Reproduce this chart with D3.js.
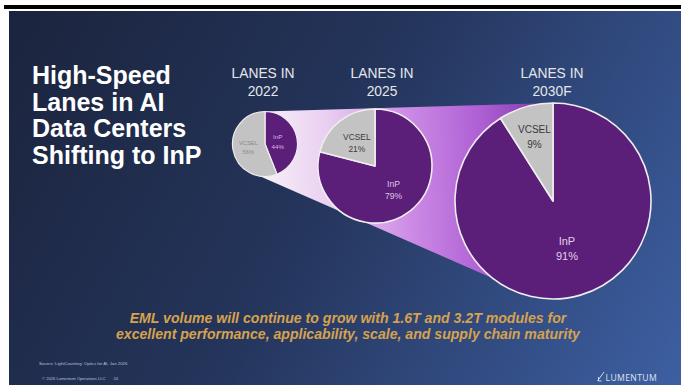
<!DOCTYPE html>
<html>
<head>
<meta charset="utf-8">
<script src="https://cdn.jsdelivr.net/npm/d3@7"></script>
<style>
  html, body { margin: 0; padding: 0; background: #ffffff; }
  svg { display: block; }
</style>
</head>
<body>
<svg id="chart" width="681" height="385"></svg>
<script>
// ---- Data ----
const years = ["2022", "2025", "2030F"];
const yearHeader = "LANES IN";
const segments = ["InP", "VCSEL"];
const inpShare = [44, 79, 91];
const vcselShare = [56, 21, 9];

const titleLines = ["High-Speed", "Lanes in AI", "Data Centers", "Shifting to InP"];
const noteLines = [
  "EML volume will continue to grow with 1.6T and 3.2T modules for",
  "excellent performance, applicability, scale, and supply chain maturity"
];
const sourceText = "Source: LightCounting: Optics for AI, Jan 2026";
const copyrightText = "\u00A9 2026 Lumentum Operations LLC";
const pageNumber = "24";
const brand = "LUMENTUM";

// ---- Layout ----
const W = 681, H = 385;
const pies = [
  { cx: 265, cy: 144, r: 32.5, font: [6.2, 5.8], lineGap: 9.5, labelR: [0.40, 0.52],
    fill: ["#d7b3e6", "#8a8a8a"], headX: 263 },
  { cx: 375, cy: 166, r: 57, font: [8.6, 8.4], lineGap: 12, labelR: [0.53, 0.52],
    fill: ["#dcc6ea", "#3c3c3c"], headX: 382 },
  { cx: 553, cy: 201, r: 98, font: [11, 10], lineGap: 15, labelR: [0.51, 0.68],
    fill: ["#e2d0ee", "#383838"], headX: 552 }
];
const sliceColor = d3.scaleOrdinal().domain(segments).range(["#5b1e79", "#c3c3c3"]);

const svg = d3.select("#chart");
const defs = svg.append("defs");

// Slide background gradient
const bg = defs.append("linearGradient").attr("id", "slideBg")
  .attr("gradientUnits", "userSpaceOnUse")
  .attr("x1", 9).attr("y1", 11).attr("x2", 681).attr("y2", 385);
bg.append("stop").attr("offset", 0).attr("stop-color", "#1b243d");
bg.append("stop").attr("offset", 0.45).attr("stop-color", "#24345a");
bg.append("stop").attr("offset", 1).attr("stop-color", "#3d5fa2");

// Funnel gradient linking the pies
const fg = defs.append("linearGradient").attr("id", "funnelFill")
  .attr("gradientUnits", "userSpaceOnUse")
  .attr("x1", 262).attr("y1", 150).attr("x2", 553).attr("y2", 140);
fg.append("stop").attr("offset", 0).attr("stop-color", "#f7f0f8");
fg.append("stop").attr("offset", 0.22).attr("stop-color", "#ead0f1");
fg.append("stop").attr("offset", 0.5).attr("stop-color", "#cd8be6");
fg.append("stop").attr("offset", 0.75).attr("stop-color", "#ae60d4");
fg.append("stop").attr("offset", 1).attr("stop-color", "#7c36a8");

// Page frame
svg.append("rect").attr("x", 0).attr("y", 0).attr("width", W).attr("height", H).attr("fill", "#ffffff");
svg.append("rect").attr("x", 4).attr("y", 5).attr("width", W - 4).attr("height", 4).attr("fill", "#000000");
svg.append("rect").attr("x", 9).attr("y", 11).attr("width", W - 9).attr("height", H - 11).attr("fill", "url(#slideBg)");

// Title
const title = svg.append("text")
  .attr("font-family", "Liberation Sans, Arial, sans-serif")
  .attr("font-weight", "bold").attr("font-size", 25).attr("fill", "#ffffff");
titleLines.forEach((t, i) => {
  title.append("tspan").attr("x", 32).attr("y", 84 + i * 26.7).text(t);
});

// Funnel shape, tangent to the first and last pie
const p0 = pies[0], p2 = pies[2];
const angBL = 100 * Math.PI / 180, angBR = 128 * Math.PI / 180;
const funnelPts = [
  [p0.cx - 2, p0.cy - p0.r],
  [p2.cx, p2.cy - p2.r],
  [p2.cx, p2.cy],
  [p2.cx + p2.r * Math.cos(angBR), p2.cy + p2.r * Math.sin(angBR)],
  [p0.cx + p0.r * Math.cos(angBL), p0.cy + p0.r * Math.sin(angBL)]
];
svg.append("path")
  .attr("d", d3.line()(funnelPts) + "Z")
  .attr("fill", "url(#funnelFill)");

// Pies
const pieGen = d3.pie().sort(null).value(d => d.value);

years.forEach((yr, i) => {
  const p = pies[i];
  const rows = [
    { key: segments[0], value: inpShare[i] },
    { key: segments[1], value: vcselShare[i] }
  ];
  const arcs = pieGen(rows);
  const arcGen = d3.arc().innerRadius(0).outerRadius(p.r);
  const g = svg.append("g").attr("transform", `translate(${p.cx},${p.cy})`);

  g.selectAll("path.slice").data(arcs).join("path")
    .attr("class", "slice")
    .attr("d", arcGen)
    .attr("fill", d => sliceColor(d.data.key))
    .attr("stroke", "#eeeeee")
    .attr("stroke-width", i === 0 ? 1.2 : 1.6)
    .attr("stroke-linejoin", "round");

  arcs.forEach((a, j) => {
    const lr = p.r * p.labelR[j];
    const lab = d3.arc().innerRadius(lr).outerRadius(lr).centroid(a);
    const t = g.append("text")
      .attr("font-family", "Liberation Sans, Arial, sans-serif")
      .attr("font-size", p.font[j])
      .attr("text-anchor", "middle")
      .attr("fill", p.fill[j]);
    t.append("tspan").attr("x", lab[0]).attr("y", lab[1] - p.lineGap / 2 + p.font[j] * 0.36).text(a.data.key);
    t.append("tspan").attr("x", lab[0]).attr("y", lab[1] + p.lineGap / 2 + p.font[j] * 0.36).text(a.data.value + "%");
  });

  // Column heading
  const h = svg.append("text")
    .attr("font-family", "Liberation Sans, Arial, sans-serif")
    .attr("font-size", 13.8).attr("fill", "#e4e6ea").attr("text-anchor", "middle");
  h.append("tspan").attr("x", p.headX).attr("y", 78).text(yearHeader);
  h.append("tspan").attr("x", p.headX).attr("y", 95.5).text(yr);
});

// Takeaway note
const note = svg.append("text")
  .attr("font-family", "Liberation Sans, Arial, sans-serif")
  .attr("font-weight", "bold").attr("font-style", "italic")
  .attr("font-size", 14.1).attr("fill", "#d6a24e").attr("text-anchor", "middle");
noteLines.forEach((t, i) => {
  note.append("tspan").attr("x", 348).attr("y", 323 + i * 15.5).text(t);
});

// Footer
svg.append("text").attr("x", 39).attr("y", 365)
  .attr("font-family", "Liberation Sans, Arial, sans-serif")
  .attr("font-size", 4.3).attr("fill", "#b9c2d6").text(sourceText);
const foot = svg.append("text").attr("x", 42).attr("y", 380)
  .attr("font-family", "Liberation Sans, Arial, sans-serif")
  .attr("font-size", 4.1).attr("fill", "#b9c2d6");
foot.append("tspan").text(copyrightText);
foot.append("tspan").attr("dx", 8).text(pageNumber);

// Brand mark
const logo = svg.append("g").attr("transform", "translate(597,381)");
logo.append("path")
  .attr("d", "M0.5,0 L7,-9 M1.5,-4 L1.5,0 L4.5,0")
  .attr("fill", "none").attr("stroke", "#dfe5f1").attr("stroke-width", 0.9);
logo.append("text").attr("x", 8.5).attr("y", 0)
  .attr("font-family", "Open Sans, sans-serif")
  .attr("font-size", 8.6).attr("letter-spacing", 0.4)
  .attr("fill", "#dfe5f1").text(brand);
</script>
</body>
</html>
